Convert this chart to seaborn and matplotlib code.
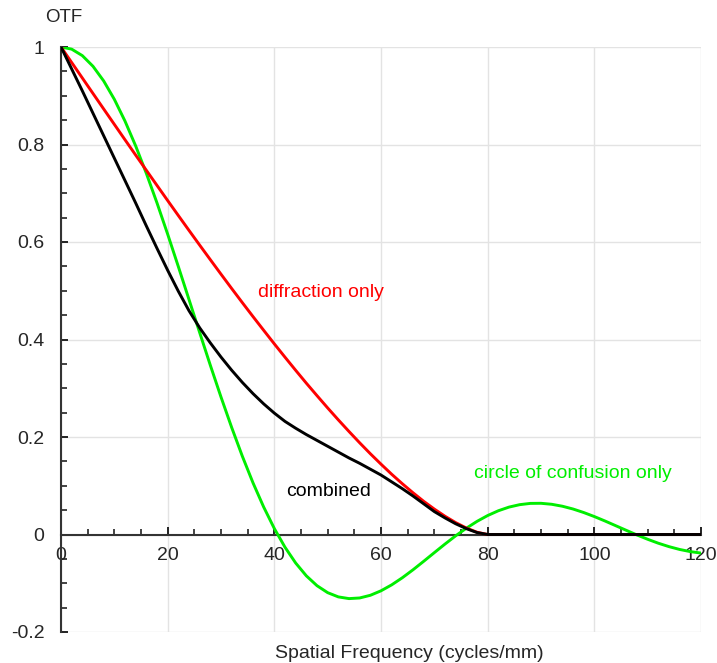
import numpy as np
import pandas as pd
import matplotlib
matplotlib.use("Agg")
import matplotlib.pyplot as plt
import seaborn as sns
from matplotlib.ticker import MultipleLocator

# ---- data ----
freq = list(range(0, 122, 2))  # cycles/mm

circle_of_confusion = [
    1.0, 0.9956, 0.9823, 0.9604, 0.9304, 0.8927, 0.8480, 0.7971, 0.7408, 0.6801,
    0.6160, 0.5496, 0.4820, 0.4142, 0.3471, 0.2820, 0.2196, 0.1606, 0.1060, 0.0564,
    0.0122, -0.0261, -0.0585, -0.0848, -0.1050, -0.1193, -0.1280, -0.1315, -0.1302,
    -0.1247, -0.1155, -0.1033, -0.0887, -0.0724, -0.0550, -0.0372, -0.0196, -0.0027,
    0.0129, 0.0269, 0.0389, 0.0487, 0.0562, 0.0612, 0.0638, 0.0640, 0.0620, 0.0580,
    0.0523, 0.0451, 0.0368, 0.0277, 0.0181, 0.0085, -0.0010, -0.0098, -0.0179,
    -0.0249, -0.0307, -0.0351, -0.0381,
]

diffraction = [
    1.0, 0.9682, 0.9364, 0.9046, 0.8729, 0.8413, 0.8097, 0.7783, 0.7471, 0.7160,
    0.6850, 0.6543, 0.6238, 0.5936, 0.5637, 0.5340, 0.5046, 0.4756, 0.4470, 0.4189,
    0.3910, 0.3637, 0.3368, 0.3104, 0.2848, 0.2596, 0.2351, 0.2113, 0.1881, 0.1657,
    0.1443, 0.1236, 0.1041, 0.0856, 0.0681, 0.0521, 0.0374, 0.0244, 0.0133, 0.0046,
    0.0,
] + [0.0] * 20

combined = [
    1.000, 0.955, 0.910, 0.864, 0.818, 0.772, 0.726, 0.680, 0.633, 0.587,
    0.542, 0.499, 0.459, 0.424, 0.393, 0.364, 0.337, 0.312, 0.289, 0.268,
    0.249, 0.232, 0.218, 0.205, 0.193, 0.181, 0.169, 0.157, 0.146, 0.134,
    0.122, 0.108, 0.094, 0.079, 0.063, 0.047, 0.034, 0.022, 0.012, 0.004,
    0.0,
] + [0.0] * 20

x_ticks = [0, 20, 40, 60, 80, 100, 120]
y_ticks = [-0.2, 0, 0.2, 0.4, 0.6, 0.8, 1.0]
y_tick_labels = ["-0.2", "0", "0.2", "0.4", "0.6", "0.8", "1"]

df = pd.DataFrame({
    "freq": freq,
    "coc": circle_of_confusion,
    "diff": diffraction,
    "comb": combined,
})

# ---- plotting ----
sns.set_style("white")
plt.rcParams["font.family"] = ["Liberation Sans", "DejaVu Sans"]

W, H = 717, 663
fig = plt.figure(figsize=(W / 100, H / 100), dpi=100)
ax = fig.add_axes([61 / W, (H - 632) / H, 640 / W, 585 / H])

lw = 2.1
sns.lineplot(data=df, x="freq", y="coc", ax=ax, color="#00ee00", lw=lw, zorder=3)
sns.lineplot(data=df, x="freq", y="diff", ax=ax, color="#ff0000", lw=lw, zorder=4)
sns.lineplot(data=df, x="freq", y="comb", ax=ax, color="#000000", lw=lw, zorder=5)

ax.set_xlim(0, 120)
ax.set_ylim(-0.2, 1.0)

ax.set_xticks(x_ticks)
ax.set_xticklabels([str(t) for t in x_ticks])
ax.set_yticks(y_ticks)
ax.set_yticklabels(y_tick_labels)
ax.xaxis.set_minor_locator(MultipleLocator(5))
ax.yaxis.set_minor_locator(MultipleLocator(0.05))

ax.grid(True, which="major", color="#e3e3e3", lw=1.0, zorder=0)
ax.set_axisbelow(True)

for s in ["top", "right"]:
    ax.spines[s].set_visible(False)
ax.spines["bottom"].set_position(("data", 0))
ax.spines["bottom"].set_color("#333333")
ax.spines["left"].set_color("#333333")
ax.spines["bottom"].set_linewidth(1.5)
ax.spines["left"].set_linewidth(1.5)
ax.spines["bottom"].set_zorder(2)

ax.tick_params(axis="both", which="both", bottom=True, left=True, top=False, right=False)
ax.tick_params(axis="x", which="major", direction="in", length=5.5, width=1.4,
               color="#222222", labelsize=14, pad=9)
ax.tick_params(axis="x", which="minor", direction="in", length=4, width=1.2,
               color="#222222")
ax.tick_params(axis="y", which="major", direction="in", length=5, width=1.4,
               color="#222222", labelsize=14, pad=12)
ax.tick_params(axis="y", which="minor", direction="in", length=4, width=1.2,
               color="#222222")

ax.set_xlabel("")
ax.set_ylabel("")

fig.text(45 / W, 1 - 17 / H, "OTF", fontsize=13.5, ha="left", va="center")
fig.text(409 / W, 1 - 653 / H, "Spatial Frequency (cycles/mm)", fontsize=14,
         ha="center", va="center")

ax.text(36.9, 0.496, "diffraction only", color="#ff0000", fontsize=14,
        ha="left", va="center")
ax.text(42.2, 0.089, "combined", color="#000000", fontsize=14,
        ha="left", va="center")
ax.text(77.4, 0.126, "circle of confusion only", color="#00ee00", fontsize=14,
        ha="left", va="center")

fig.savefig("out.png", dpi=100)
